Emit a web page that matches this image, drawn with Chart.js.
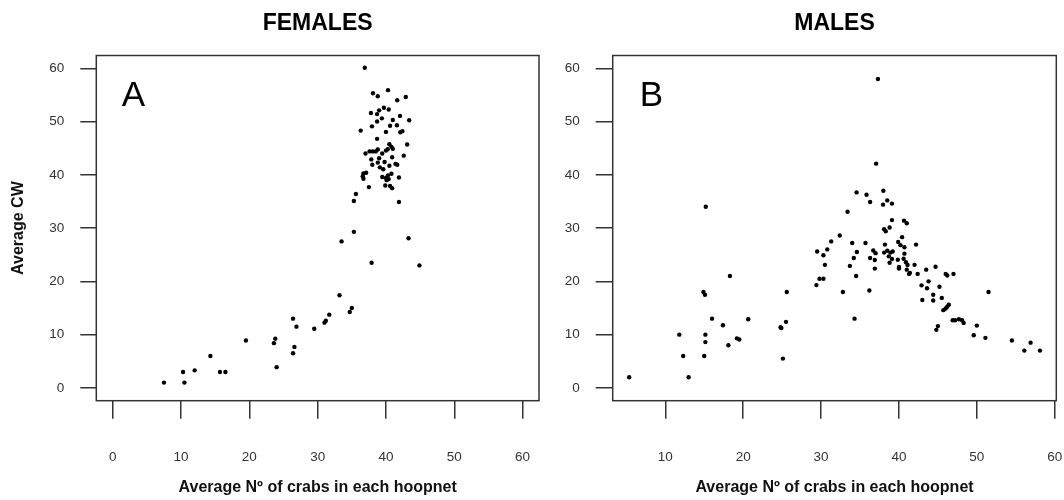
<!DOCTYPE html>
<html>
<head>
<meta charset="utf-8">
<script src="https://cdn.jsdelivr.net/npm/chart.js@4.4.1/dist/chart.umd.min.js"></script>
<style>
  html, body { margin:0; padding:0; background:#fff; }
  #wrap { position:relative; width:1064px; height:500px; overflow:hidden; }
  canvas { position:absolute; top:0; }
  #females { left:0; }
  #males { left:545px; }
</style>
</head>
<body>
<div id="wrap">
  <canvas id="females" width="545" height="500"></canvas>
  <canvas id="males" width="519" height="500"></canvas>
</div>
<script>
/* ---------- data ---------- */
const yTicks  = [0, 10, 20, 30, 40, 50, 60];
const xTicksA = [0, 10, 20, 30, 40, 50, 60];
const xTicksB = [10, 20, 30, 40, 50, 60];

// A - females: average nº of crabs per hoopnet vs average CW
const femalesX = [7.5,10.3,10.5,12.0,14.3,15.7,16.5,19.5,23.6,23.8,24.0,26.4,26.9,26.6,26.4,29.5,31.0,31.2,31.7,33.2,
  34.7,35.0,33.5,35.3,35.3,35.6,37.9,43.3,44.9,36.9,41.9,
  38.1,38.8,40.3,41.65,42.9,37.8,38.7,39.0,39.7,40.4,42.05,43.4,37.95,38.7,39.4,41.0,40.6,41.6,36.3,40.0,
  42.1,42.4,38.7,43.1,42.6,40.5,40.8,40.25,41.0,40.0,37.0,37.6,38.05,38.5,38.8,39.45,40.9,37.85,39.0,38.0,
  38.8,39.8,39.1,39.6,40.5,41.4,41.65,39.46,40.0,40.3,40.8,40.1,40.4,41.9,36.7,37.1,36.6,36.7,37.5,39.9,
  40.6,40.9];
const femalesY = [1,3,1,3.3,6,3,3,8.9,8.4,9.25,3.9,13,11.5,7.7,6.5,11.1,12.25,12.6,13.75,17.4,
  14.25,15,27.5,29.3,35.1,36.4,23.5,28.1,23,60.1,34.9,
  55.3,54.75,55.9,54.0,54.6,51.6,51.4,52.1,52.6,52.25,51.06,50.25,49.1,50.0,50.6,50.3,49.2,49.3,48.3,48.06,
  48.0,48.2,46.75,45.7,43.6,45.75,45.25,44.8,44.9,44.55,44.0,44.4,44.4,44.4,44.75,44.0,43.3,42.9,43.1,41.9,
  42.3,42.4,41.4,41.06,41.7,42.05,41.9,39.6,39.4,39.9,40.2,39.0,39.2,39.5,40.25,40.4,39.75,39.25,37.7,38.0,
  37.9,37.5];

// B - males
const malesX = [5.37,11.8,12.3,13.0,15.0,15.15,15.15,14.9,15.1,15.2,16.0,17.4,18.1,18.3,19.2,19.5,20.65,24.8,24.9,25.1,
  25.5,25.6,
  29.4,29.8,30.3,29.5,30.3,30.8,31.3,32.4,30.5,33.4,32.8,34.3,34.0,35.7,34.6,34.2,33.7,34.5,
  34.56,35.84,36.3,36.2,36.3,36.9,36.9,36.7,37.0,37.07,37.3,
  38.0,38.5,37.96,39.1,39.1,40.65,41.0,38.1,38.3,38.8,38.2,38.1,38.5,38.9,39.2,38.7,39.1,38.8,39.9,40.4,
  40.2,40.7,39.85,40.6,40.7,40.9,40.0,41.1,41.0,41.4,41.3,40.0,
  54.5,56.1,56.9,58.1,49.6,51.1,50.0,48.3,48.1,47.7,46.9,47.2,47.0,46.0,46.2,45.7,46.0,46.2,46.4,45.5,
  45.2,44.7,45.0,44.8,44.4,44.4,43.6,43.8,42.9,43.0,43.5,42.4,42.2,42.0,51.5];
const malesY = [2,10,6,2,6,8.6,10,18,17.5,34,13,11.75,8,21,9.3,9.1,12.9,11.4,11.25,5.5,
  12.4,18,
  19.3,20.5,20.5,25.6,24.9,26.0,27.5,28.6,23.1,33.06,18,13,27.2,27.2,25.5,24.4,22.9,21.0,
  36.7,36.25,34.9,18.3,24.4,24.0,22.4,25.8,25.3,42.1,58.0,
  37.0,35.2,34.4,34.6,31.5,31.4,30.9,29.8,29.4,30.1,26.9,25.4,25.75,25.4,25.6,24.7,24.2,23.5,27.4,28.3,
  26.8,26.4,24.05,24.25,25.2,23.6,22.7,23.06,22.2,21.6,21.4,22.4,
  8.9,7,8.5,7,9.9,9.4,11.7,12.2,12.7,12.9,12.7,12.7,21.4,21.4,21.1,14.6,14.9,15.25,15.6,16.9,
  19,22.75,11.6,10.9,17.5,16.4,18.7,20,19.25,16.5,22.2,21.4,26.9,23.1,18];

/* ---------- shared styling ---------- */
Chart.defaults.font.family = "'Liberation Sans', Arial, sans-serif";
Chart.defaults.color = "#333";

const INK = "#333";

// box around the plotting region + big panel letter
const framePlugin = {
  id: 'frame',
  afterDraw(chart, args, opts) {
    const { ctx, chartArea: a } = chart;
    ctx.save();
    ctx.strokeStyle = INK;
    ctx.lineWidth = 1.5;
    ctx.strokeRect(a.left, a.top, a.right - a.left, a.bottom - a.top);
    ctx.fillStyle = "#000";
    ctx.font = "35px 'Liberation Sans', Arial, sans-serif";
    ctx.textBaseline = 'alphabetic';
    ctx.fillText(opts.letter, a.left + opts.dx, a.top + 50);
    ctx.restore();
  }
};

const fixTicks = list => scale => { scale.ticks = list.map(v => ({ value: v })); };

function panel(id, xs, ys, cfg) {
  const pts = xs.map((x, i) => ({ x: x, y: ys[i] }));
  return new Chart(document.getElementById(id), {
    type: 'scatter',
    data: {
      datasets: [{
        data: pts,
        pointRadius: 2.2,
        pointHoverRadius: 2.2,
        pointBackgroundColor: "#000",
        pointBorderWidth: 0
      }]
    },
    plugins: [framePlugin],
    options: {
      responsive: false,
      animation: false,
      events: [],
      layout: { padding: { left: 0, right: cfg.padRight, top: 0, bottom: 0 } },
      plugins: {
        legend: { display: false },
        tooltip: { enabled: false },
        title: {
          display: true,
          text: cfg.title,
          fullSize: false,
          color: "#000",
          font: { size: 23, weight: 'bold' },
          padding: { top: 9.5, bottom: 18.4 }
        },
        frame: { letter: cfg.letter, dx: cfg.letterDx }
      },
      scales: {
        x: {
          type: 'linear',
          min: cfg.xMin,
          max: cfg.xMax,
          afterBuildTicks: fixTicks(cfg.xTicks),
          afterFit: s => { s.height = 99.3; s.paddingLeft = 0; s.paddingRight = 0; },
          grid: { drawOnChartArea: false, drawTicks: true, tickLength: 18, color: INK, lineWidth: 1.5 },
          border: { display: false },
          ticks: { font: { size: 13.5 }, color: INK, padding: 30.2, maxRotation: 0, autoSkip: false },
          title: {
            display: true,
            text: 'Average Nº of crabs in each hoopnet',
            color: "#111",
            font: { size: 16, weight: 'bold' },
            padding: { top: 0, bottom: 2.4 }
          }
        },
        y: {
          type: 'linear',
          min: -2.4,
          max: 62.4,
          afterBuildTicks: fixTicks(yTicks),
          afterFit: s => { s.width = cfg.yWidth; s.paddingTop = 0; s.paddingBottom = 0; },
          grid: { drawOnChartArea: false, drawTicks: true, tickLength: cfg.yTickLen, color: INK, lineWidth: 1.5 },
          border: { display: false },
          ticks: { font: { size: 13.5 }, color: INK, padding: 16, autoSkip: false },
          title: {
            display: cfg.yTitle,
            text: 'Average CW',
            color: "#111",
            font: { size: 16, weight: 'bold' },
            padding: { top: 9.4, bottom: 0 }
          }
        }
      }
    }
  });
}

/* ---------- A: females ---------- */
panel('females', femalesX, femalesY, {
  title: 'FEMALES', letter: 'A', letterDx: 25.5,
  xMin: -2.4, xMax: 62.4, xTicks: xTicksA,
  yWidth: 96.3, yTickLen: 16, yTitle: true, padRight: 6
});

/* ---------- B: males ---------- */
panel('males', malesX, malesY, {
  title: 'MALES', letter: 'B', letterDx: 27,
  xMin: 3.25, xMax: 60.2, xTicks: xTicksB,
  yWidth: 67.7, yTickLen: 17, yTitle: false, padRight: 7.7
});
</script>
</body>
</html>
